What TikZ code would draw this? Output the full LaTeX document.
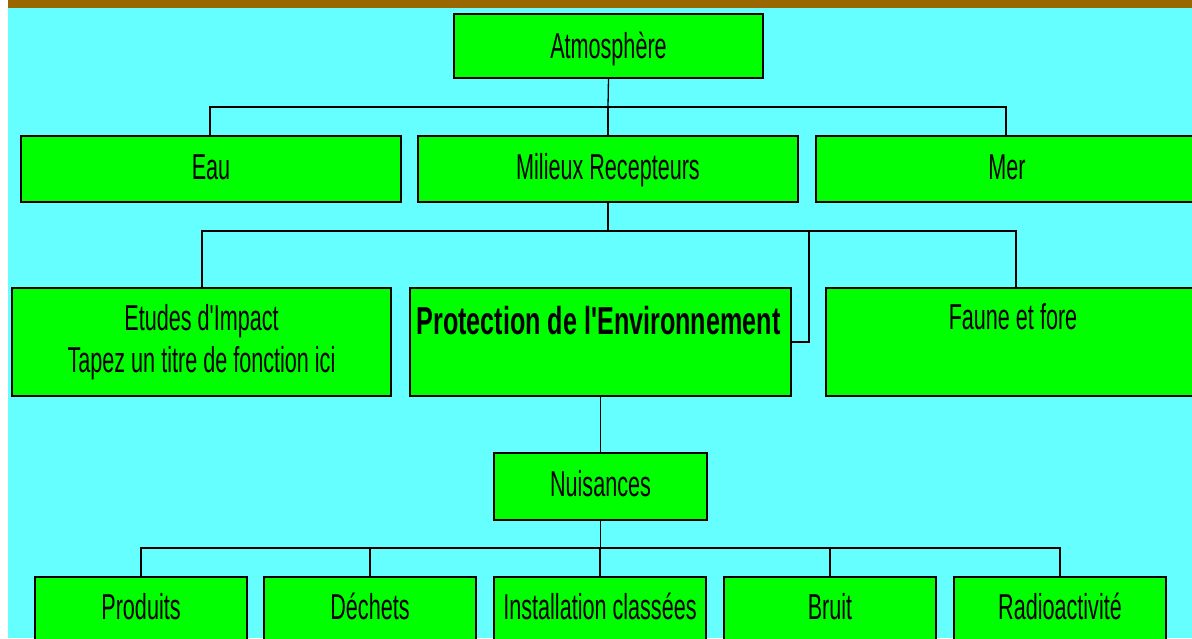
\documentclass[tikz,border=0pt]{standalone}
\usepackage{fontspec}
\setmainfont{Liberation Sans}
\usetikzlibrary{calc}
\definecolor{bgcyan}{HTML}{66FFFF}
\definecolor{boxgreen}{HTML}{00FF00}
\definecolor{barbrown}{HTML}{996600}
\newcommand{\cond}[1]{\scalebox{0.6}[1]{#1}}
\newcommand{\condb}[1]{\scalebox{0.645}[1]{#1}}
\tikzset{
  box/.style={draw=black, line width=1.3pt, fill=boxgreen, inner sep=0pt, outer sep=0pt},
  txt/.style={anchor=base, inner sep=0pt, text=black, font=\fontsize{36}{40}\selectfont},
  btxt/.style={anchor=base, inner sep=0pt, text=black, font=\fontsize{39}{43}\selectfont\bfseries},
  conn/.style={draw=black, line width=1.3pt}
}
\begin{document}
\begin{tikzpicture}[x=1pt,y=-1pt]
\useasboundingbox (0,0) rectangle (1192,638);
\fill[white] (0,0) rectangle (1192,638);
\fill[bgcyan] (8,8) rectangle (1192,638);
\fill[barbrown] (8,0) rectangle (1192,8);
\clip (0,0) rectangle (1192,638);

% boxes
\node[box, minimum width=309pt, minimum height=64pt] (atm) at (608.5,46) {};
\node[box, minimum width=380pt, minimum height=66pt] (eau) at (211,169) {};
\node[box, minimum width=380pt, minimum height=66pt] (mil) at (608,169) {};
\node[box, minimum width=380pt, minimum height=66pt] (mer) at (1006,169) {};
\node[box, minimum width=379pt, minimum height=108pt] (etu) at (201.5,342) {};
\node[box, minimum width=381pt, minimum height=108pt] (pro) at (600.5,342) {};
\node[box, minimum width=380pt, minimum height=108pt] (fau) at (1016,342) {};
\node[box, minimum width=213pt, minimum height=67pt] (nui) at (600.5,486.5) {};
\node[box, minimum width=212pt, minimum height=108pt] (prod) at (141,631) {};
\node[box, minimum width=212pt, minimum height=108pt] (dech) at (370,631) {};
\node[box, minimum width=212pt, minimum height=108pt] (inst) at (600,631) {};
\node[box, minimum width=212pt, minimum height=108pt] (brui) at (830,631) {};
\node[box, minimum width=212pt, minimum height=108pt] (radi) at (1060,631) {};

% texts
\node[txt] (atm-t) at ([yshift=-44pt]atm.north) {\cond{Atmosphère}};
\node[txt] (eau-t) at ([yshift=-43pt]eau.north) {\cond{Eau}};
\node[txt] (mil-t) at ([yshift=-43pt]mil.north) {\cond{Milieux Recepteurs}};
\node[txt] (mer-t) at ([yshift=-43pt,xshift=1pt]mer.north) {\cond{Mer}};
\node[txt] (etu-t1) at ([yshift=-42pt]etu.north) {\cond{Etudes d\textquotesingle Impact}};
\node[txt] (etu-t2) at ([yshift=-84pt]etu.north) {\cond{Tapez un titre de fonction ici}};
\node[btxt] (pro-t) at ([yshift=-46pt,xshift=-2pt]pro.north) {\condb{Protection de l\textquotesingle Environnement}};
\node[txt] (fau-t) at ([yshift=-41pt,xshift=-3pt]fau.north) {\cond{Faune et fore}};
\node[txt] (nui-t) at ([yshift=-43pt]nui.north) {\cond{Nuisances}};
\node[txt] (prod-t) at ([yshift=-42pt]prod.north) {\cond{Produits}};
\node[txt] (dech-t) at ([yshift=-42pt]dech.north) {\cond{Déchets}};
\node[txt] (inst-t) at ([yshift=-42pt]inst.north) {\cond{Installation classées}};
\node[txt] (brui-t) at ([yshift=-42pt]brui.north) {\cond{Bruit}};
\node[txt] (radi-t) at ([yshift=-42pt]radi.north) {\cond{Radioactivité}};

% junctions
\coordinate (j1) at (608,107);
\coordinate (j2) at (608,231);
\coordinate (j2r) at (809,231);
\coordinate (j3) at (600.5,548);

% connectors
\draw[conn] (atm.south) -- (j1);
\draw[conn] ([xshift=-1pt]eau.north) |- (j1) -| (mer.north);
\draw[conn] (j1) -- (mil.north);
\draw[conn] (mil.south) -- (j2);
\draw[conn] ([xshift=0.5pt]etu.north) |- (j2) -| (fau.north);
\draw[conn] (j2r) |- (pro.east);
\draw[conn] (pro.south) -- (nui.north);
\draw[conn] (nui.south) -- (j3);
\draw[conn] (prod.north) |- (j3) -| (radi.north);
\draw[conn] (dech.north) -- (dech.north |- j3);
\draw[conn] (inst.north) -- (inst.north |- j3);
\draw[conn] (brui.north) -- (brui.north |- j3);
\end{tikzpicture}
\end{document}
